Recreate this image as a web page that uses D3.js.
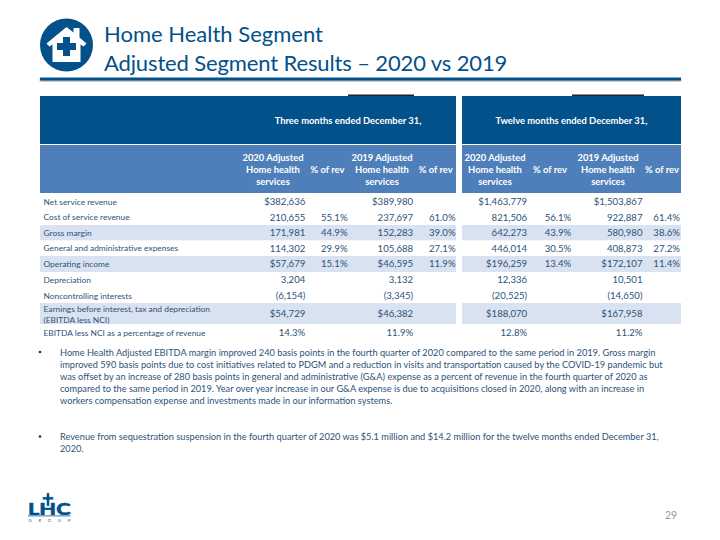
<!DOCTYPE html>
<html><head><meta charset="utf-8">
<script src="https://cdnjs.cloudflare.com/ajax/libs/d3/7.8.5/d3.min.js"></script>
<style>html,body{margin:0;padding:0;background:#fff}svg{display:block}text{font-family:Lato,"Open Sans",sans-serif}</style>
</head><body><svg id="c" width="720" height="540"></svg>
<script>
const titleLines=["Home Health Segment","Adjusted Segment Results – 2020 vs 2019"];
const periodHeaders=["Three months ended December 31,","Twelve months ended December 31,"];
const columnHeaders=[["2020 Adjusted","Home health","services"],["% of rev"],["2019 Adjusted","Home health","services"],["% of rev"],["2020 Adjusted","Home health","services"],["% of rev"],["2019 Adjusted","Home health","services"],["% of rev"]];
const rowLabels=[["Net service revenue"],["Cost of service revenue"],["Gross margin"],["General and administrative expenses"],["Operating income"],["Depreciation"],["Noncontrolling interests"],["Earnings before interest, tax and depreciation","(EBITDA less NCI)"],["EBITDA less NCI as a percentage of revenue"]];
const shadedRows=[2,4,7];
const threeMonths2020=["$382,636","210,655","171,981","114,302","$57,679","3,204","(6,154)","$54,729","14.3%"];
const threeMonths2020Pct=["","55.1%","44.9%","29.9%","15.1%","","","",""];
const threeMonths2019=["$389,980","237,697","152,283","105,688","$46,595","3,132","(3,345)","$46,382","11.9%"];
const threeMonths2019Pct=["","61.0%","39.0%","27.1%","11.9%","","","",""];
const twelveMonths2020=["$1,463,779","821,506","642,273","446,014","$196,259","12,336","(20,525)","$188,070","12.8%"];
const twelveMonths2020Pct=["","56.1%","43.9%","30.5%","13.4%","","","",""];
const twelveMonths2019=["$1,503,867","922,887","580,980","408,873","$172,107","10,501","(14,650)","$167,958","11.2%"];
const twelveMonths2019Pct=["","61.4%","38.6%","27.2%","11.4%","","","",""];
const bullets=[["Home Health Adjusted EBITDA margin improved 240 basis points in the fourth quarter of 2020 compared to the same period in 2019. Gross margin","improved 590 basis points due to cost initiatives related to PDGM and a reduction in visits and transportation caused by the COVID-19 pandemic but","was offset by an increase of 280 basis points in general and administrative (G&A) expense as a percent of revenue in the fourth quarter of 2020 as","compared to the same period in 2019. Year over year increase in our G&A expense is due to acquisitions closed in 2020, along with an increase in","workers compensation expense and investments made in our information systems."],["Revenue from sequestration suspension in the fourth quarter of 2020 was $5.1 million and $14.2 million for the twelve months ended December 31,","2020."]];
const pageNumber="29";

const valueCols=[threeMonths2020,threeMonths2020Pct,threeMonths2019,threeMonths2019Pct,twelveMonths2020,twelveMonths2020Pct,twelveMonths2019,twelveMonths2019Pct];
const DARK="#03518a",MID="#4f7fba",LIGHT="#d9e2f0",TXT="#2c5378";
const svg=d3.select("#c");

const headRight=d3.scaleOrdinal(d3.range(8),[273,327.5,382,435.7,495,550,608,662]);
const valRight=d3.scaleOrdinal(d3.range(8),[305.3,347.6,413.2,455.6,527.2,571.3,642.5,680]);
const rowTop=d3.scaleOrdinal(d3.range(10),[193.5,209.5,225,240.3,256,272,288,303,325,341]);
const blocks=[[40,456],[462,681]];

svg.append("defs").append("filter").attr("id","blur").append("feGaussianBlur").attr("stdDeviation",1);
svg.append("rect").attr("x",40).attr("y",79).attr("width",641).attr("height",2.5).attr("fill","#999").attr("filter","url(#blur)");
svg.append("rect").attr("x",40).attr("y",77.5).attr("width",641).attr("height",3).attr("fill",DARK);
svg.selectAll("text.t").data(titleLines).join("text").attr("class","t").attr("x",104).attr("y",(d,i)=>[42,71][i]).attr("font-size",22).attr("letter-spacing",(d,i)=>[0,-0.13][i]).attr("fill",DARK).text(d=>d);

const icon=svg.append("g").attr("transform","translate(66.5,45)");
icon.append("circle").attr("r",26.5).attr("fill",DARK);
icon.append("path").attr("fill","#fff").attr("d",d3.line()([[-20,-1.5],[0,-18],[7,-12.5],[7,-17],[13,-17],[13,-7.5],[20,-1.5],[17,1.5],[14,-0.5],[14,17],[-14,17],[-14,-0.5],[-17,1.5]])+"Z");
icon.append("path").attr("fill",DARK).attr("d","M-3.5,-8H3.5V-2H9.5V5H3.5V11H-3.5V5H-9.5V-2H-3.5Z");

[[348,414],[572,644]].forEach(b=>svg.append("rect").attr("x",b[0]).attr("y",94.5).attr("width",b[1]-b[0]).attr("height",2).attr("fill","#222"));

svg.selectAll("rect.h1").data(blocks).join("rect").attr("x",d=>d[0]).attr("y",96).attr("width",d=>d[1]-d[0]).attr("height",48).attr("fill",DARK);
svg.selectAll("rect.h2").data(blocks).join("rect").attr("x",d=>d[0]).attr("y",145).attr("width",d=>d[1]-d[0]).attr("height",48).attr("fill",MID);
shadedRows.forEach(r=>blocks.forEach(b=>svg.append("rect").attr("x",b[0]).attr("y",rowTop(r)).attr("width",b[1]-b[0]).attr("height",rowTop(r+1)-rowTop(r)-(r==7?1:0)).attr("fill",LIGHT)));

const bold=(s)=>s.attr("font-weight",700).attr("fill","#fff").attr("text-anchor","middle");
svg.selectAll("text.p").data(periodHeaders).join("text").attr("class","p").attr("x",(d,i)=>[348,571.5][i]).attr("y",124).attr("font-size",9.4).call(bold).text(d=>d);
columnHeaders.forEach((lines,c)=>{
  const y0=lines.length==3?161:173;
  lines.forEach((l,i)=>svg.append("text").attr("x",headRight(c)).attr("y",y0+i*12).attr("font-size",9.4).call(bold).text(l));
});

rowLabels.forEach((lines,r)=>{
  const mid=(rowTop(r)+rowTop(r+1))/2;
  const base=mid+3.2-(lines.length-1)*5.5;
  lines.forEach((l,i)=>svg.append("text").attr("x",43.5).attr("y",base+i*11).attr("font-size",8.4).attr("fill",TXT).text(l));
  valueCols.forEach((col,c)=>{
    if(col[r]) svg.append("text").attr("x",valRight(c)).attr("y",mid+3.4).attr("text-anchor","end").attr("font-size",9.6).attr("fill",TXT).text(col[r]);
  });
});

const bulletTops=[355.5,440];
bullets.forEach((lines,b)=>{
  svg.append("circle").attr("cx",40).attr("cy",bulletTops[b]-3.5).attr("r",1.3).attr("fill","#1f2f40");
  lines.forEach((l,i)=>svg.append("text").attr("x",60).attr("y",bulletTops[b]+i*12.1).attr("font-size",9.22).attr("fill",TXT).text(l));
});

const logo=svg.append("g").attr("fill",DARK);
logo.append("text").attr("x",28).attr("y",514.5).attr("font-size",17).attr("font-weight",900).attr("stroke",DARK).attr("stroke-width",0.5).attr("textLength",42.5).attr("lengthAdjust","spacingAndGlyphs").text("LHC");
logo.append("rect").attr("x",28).attr("y",515).attr("width",42.5).attr("height",1.6).attr("fill","#7fa6cf");
logo.append("path").attr("stroke","#fff").attr("stroke-width",0.8).attr("d","M46.3,492.7h3.4v4h4v3.2h-4v6.3h-3.4v-6.3h-4v-3.2h4z");
logo.append("text").attr("x",28.5).attr("y",522.4).attr("font-size",4.2).attr("textLength",42).attr("fill","#555").text("GROUP");

svg.append("text").attr("x",665).attr("y",519).attr("font-size",10.5).attr("fill","#999").text(pageNumber);
</script></body></html>
